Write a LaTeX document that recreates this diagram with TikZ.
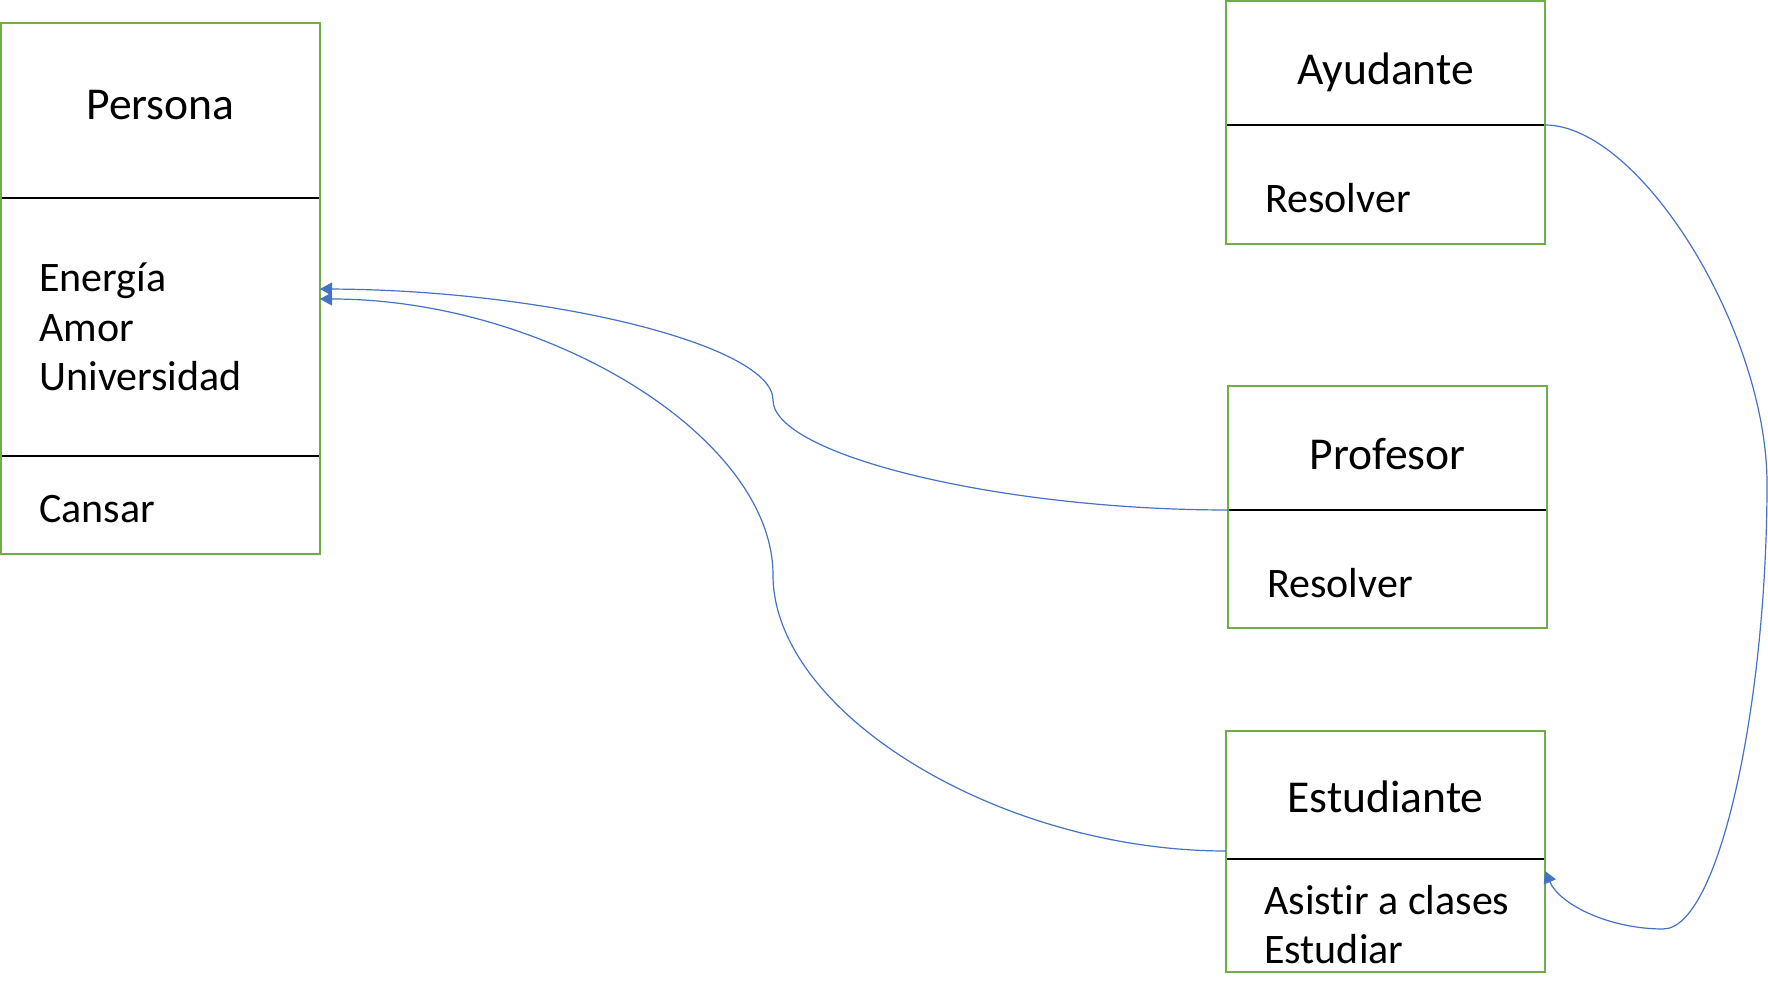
\documentclass[tikz,border=0pt]{standalone}
\usepackage{fontspec}
\setmainfont{Carlito}[Ligatures=NoCommon]
\usetikzlibrary{arrows.meta,positioning}
\definecolor{boxgreen}{HTML}{70AD47}
\definecolor{linkblue}{HTML}{4472C4}

\begin{document}
\begin{tikzpicture}[x=0.5pt,y=-0.5pt]
    % class boxes: title part, member parts, green frame
    \tikzset{head/.style = {shape=rectangle,draw,line width=0.6pt,minimum width=159.5pt,inner sep=0pt,outer sep=0pt,text height=18pt,text depth=4pt,font=\fontsize{22.8}{26}\selectfont}}
    \tikzset{part/.style = {shape=rectangle,draw,line width=0.6pt,minimum width=159.5pt,inner sep=0pt,outer sep=0pt}}
    \tikzset{member/.style = {anchor=west,align=left,inner sep=0pt,font=\fontsize{21}{24.8}\selectfont}}
    \tikzset{frame/.style = {draw=boxgreen,line width=1.2pt}}
    \tikzset{pre/.style = {draw=linkblue,line width=0.6pt,-{Triangle[length=6pt,width=6.5pt]}}}
    \useasboundingbox (0,0) rectangle (1768,999);

    % persona
    \node[head,minimum height=87.5pt,text height=13pt] (persona) at (160.5,110.5) {Persona};
    \node[part,minimum height=129pt] (personaattr) [below=0pt of persona] {};
    \node[part,minimum height=49pt]  (personaops)  [below=0pt of personaattr] {};
    \draw[frame] (persona.north west) rectangle (personaops.south east);
    \node[member] (personaattrtext) at ([xshift=19pt]personaattr.west) {Energía\\Amor\\Universidad};
    \node[member] (personaopstext) at ([shift={(19pt,-2pt)}]personaops.west) {Cansar};

    % ayudante
    \node[head,minimum height=62pt,text height=26pt] (ayudante) at (1385.5,63) {Ayudante};
    \node[part,minimum height=59.5pt] (ayudanteops) [below=0pt of ayudante] {};
    \draw[frame] (ayudante.north west) rectangle (ayudanteops.south east);
    \node[member] (ayudanteres) at ([shift={(19.5pt,-7pt)}]ayudanteops.west) {Resolver};

    % profesor
    \node[head,minimum height=62pt,text height=26pt] (profesor) at (1387.5,448) {Profesor};
    \node[part,minimum height=59pt] (profesorops) [below=0pt of profesor] {};
    \draw[frame] (profesor.north west) rectangle (profesorops.south east);
    \node[member] (profesorres) at ([shift={(19.5pt,-7pt)}]profesorops.west) {Resolver};

    % estudiante
    \node[head,minimum height=64pt,text height=21.5pt] (estudiante) at (1385.5,795) {Estudiante};
    \node[part,minimum height=56.5pt] (estudianteops) [below=0pt of estudiante] {};
    \draw[frame] (estudiante.north west) rectangle (estudianteops.south east);
    \node[member] (estudianteact) at ([shift={(19pt,-4.5pt)}]estudianteops.west) {Asistir a clases\\Estudiar};

    % inheritance links
    \draw[pre] (profesor.south west)
        .. controls (1000,510) and (773,455) .. (773,400)
        .. controls (773,345) and (547,290) .. ([yshift=19pt]personaattr.east);
    \draw[pre] ([yshift=4pt]estudiante.south west)
        .. controls (1000,851) and (773,713) .. (773,575)
        .. controls (773,437) and (547,299) .. ([yshift=14pt]personaattr.east);
    \draw[pre] (ayudante.south east)
        .. controls (1640,125) and (1767,330) .. (1767,484)
        .. controls (1767,700) and (1720,929) .. (1663,929)
        .. controls (1610,929) and (1560,905) .. ([yshift=-6pt]estudianteops.north east);
\end{tikzpicture}
\end{document}
